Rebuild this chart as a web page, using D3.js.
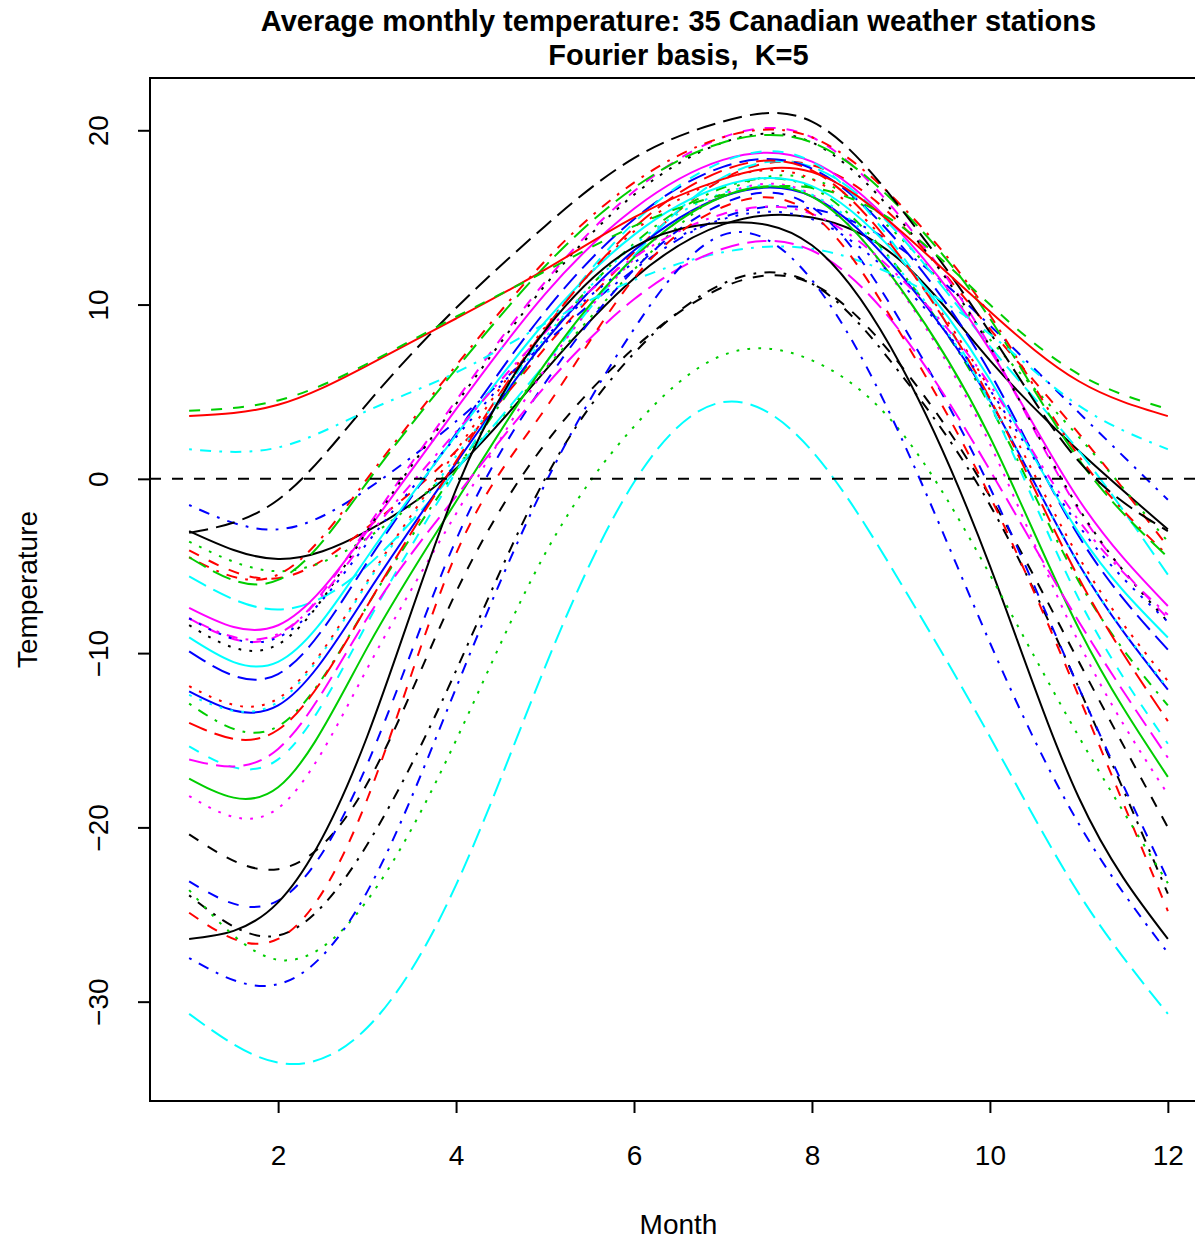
<!DOCTYPE html>
<html>
<head>
<meta charset="utf-8">
<script src="https://cdn.jsdelivr.net/npm/d3@7"></script>
<style>
  body { margin: 0; background: #fff; }
  svg { display: block; font-family: "Liberation Sans", Arial, sans-serif; }
</style>
</head>
<body>
<div id="chart"></div>
<script>
// month positions and axis ticks
const months = [1, 2, 3, 4, 5, 6, 7, 8, 9, 10, 11, 12];
const xTicks = [2, 4, 6, 8, 10, 12];
const yTicks = [-30, -20, -10, 0, 10, 20];

// smoothed monthly temperature curves (station order of the data set)
const stJohns       = [-3.0, -4.6, -3.0, 0.6, 6.2, 11.5, 14.6, 15.0, 12.5, 6.8, 1.6, -2.9];
const halifax       = [-4.1, -5.7, -2.8, 1.6, 7.5, 13.0, 17.2, 18.0, 14.6, 8.6, 2.6, -3.9];
const sydney        = [-3.6, -5.3, -3.4, 0.8, 6.3, 12.0, 16.4, 17.2, 13.8, 8.0, 2.4, -3.6];
const yarmouth      = [-1.5, -2.9, -0.6, 3.3, 7.8, 12.0, 15.0, 15.5, 13.2, 8.8, 3.8, -1.2];
const charlottetown = [-5.6, -7.5, -5.0, 0.5, 6.6, 12.8, 17.3, 17.9, 13.9, 7.6, 1.6, -5.5];
const fredericton   = [-7.4, -8.4, -3.0, 4.0, 10.6, 15.5, 18.3, 18.2, 14.1, 7.4, -1.2, -7.3];
const scheffervll   = [-20.4, -22.4, -17.5, -6.5, 2.0, 7.5, 11.0, 11.2, 6.5, -1.0, -10.5, -20.0];
const arvida        = [-11.9, -12.6, -5.9, 1.6, 8.7, 14.2, 17.2, 17.2, 12.6, 5.1, -4.5, -11.6];
const bagottville   = [-12.9, -14.2, -7.3, 0.5, 7.9, 13.5, 16.7, 16.7, 11.9, 4.2, -5.9, -13.0];
const quebec        = [-9.9, -11.2, -4.8, 2.6, 9.6, 14.9, 17.9, 17.8, 13.4, 6.1, -3.3, -9.8];
const sherbrooke    = [-9.1, -10.5, -4.5, 2.5, 9.0, 14.0, 16.8, 16.8, 12.6, 5.7, -3.1, -9.1];
const montreal      = [-8.0, -9.0, -2.8, 4.5, 11.3, 16.5, 19.6, 19.6, 15.0, 7.6, -1.8, -8.0];
const ottawa        = [-8.4, -9.5, -3.0, 4.3, 11.1, 16.3, 19.3, 19.3, 14.8, 7.6, -1.7, -8.2];
const toronto       = [-4.5, -5.5, 0.0, 6.5, 12.5, 17.0, 19.6, 19.6, 15.7, 9.4, 1.3, -4.4];
const london        = [-4.5, -5.8, -0.2, 6.3, 12.2, 16.7, 19.3, 19.3, 15.5, 9.2, 1.1, -4.5];
const thunderBay    = [-12.2, -13.0, -6.6, 0.9, 7.9, 13.1, 16.2, 16.2, 11.7, 4.5, -4.9, -12.1];
const winnipeg      = [-15.35, -16.1, -8.3, 0.4, 8.5, 14.7, 18.2, 18.2, 12.9, 4.3, -6.9, -15.2];
const thePas        = [-18.2, -18.9, -10.9, -2.0, 6.3, 12.6, 16.3, 16.3, 10.8, 2.0, -9.4, -18.1];
const churchill     = [-23.9, -26.2, -21.0, -11.0, 0.0, 7.2, 11.2, 11.2, 6.0, -1.5, -12.0, -23.8];
const regina        = [-14.0, -14.4, -7.3, 1.0, 8.6, 14.4, 17.7, 17.7, 12.7, 4.6, -5.7, -13.9];
const prAlbert      = [-17.2, -17.7, -9.7, -1.3, 6.6, 12.7, 16.2, 16.2, 10.9, 2.4, -8.6, -17.1];
const uraniumCity   = [-23.1, -24.2, -16.4, -3.5, 5.5, 12.0, 15.8, 15.6, 9.0, -0.5, -12.0, -23.0];
const edmonton      = [-12.4, -12.8, -6.0, 1.3, 8.1, 13.4, 16.4, 16.3, 11.9, 4.5, -4.9, -12.0];
const calgary       = [-8.0, -8.9, -3.4, 2.7, 8.4, 12.7, 15.2, 15.2, 11.5, 5.4, -2.4, -7.8];
const kamloops      = [-3.1, -1.2, 4.3, 9.8, 14.5, 18.4, 20.5, 20.5, 15.5, 8.4, 1.0, -3.0];
const vancouver     = [3.6, 4.25, 6.5, 9.2, 12.0, 15.0, 17.2, 17.6, 14.2, 9.6, 5.6, 3.6];
const victoria      = [3.9, 4.5, 6.6, 9.3, 11.9, 14.5, 16.3, 16.7, 14.5, 10.0, 6.0, 4.0];
const prGeorge      = [-8.0, -9.1, -3.7, 2.4, 8.1, 12.4, 14.9, 14.9, 11.2, 5.1, -2.7, -8.2];
const prRupert      = [1.7, 1.8, 3.9, 6.1, 8.9, 11.4, 13.0, 13.2, 11.5, 8.3, 4.2, 1.7];
const whitehorse    = [-16.1, -15.5, -8.0, -1.0, 5.3, 10.3, 13.2, 13.1, 8.4, 0.5, -8.2, -16.0];
const dawson        = [-26.4, -24.3, -14.8, -0.6, 8.5, 13.3, 14.7, 13.4, 6.5, -5.0, -18.3, -26.4];
const yellowknife   = [-24.9, -26.4, -18.4, -4.3, 4.0, 11.5, 15.6, 15.2, 8.3, -1.0, -12.5, -24.8];
const iqaluit       = [-23.6, -27.6, -24.2, -15.0, -4.3, 3.0, 7.1, 6.8, 2.7, -5.5, -14.8, -23.2];
const inuvik        = [-27.5, -29.0, -23.7, -12.0, -0.3, 8.6, 14.0, 11.4, 2.4, -9.4, -19.8, -27.2];
const resolute      = [-30.7, -33.5, -31.5, -23.3, -10.8, -0.2, 4.4, 1.6, -6.0, -14.8, -23.8, -30.7];

const stations = [stJohns, halifax, sydney, yarmouth, charlottetown, fredericton,
  scheffervll, arvida, bagottville, quebec, sherbrooke, montreal, ottawa, toronto,
  london, thunderBay, winnipeg, thePas, churchill, regina, prAlbert, uraniumCity,
  edmonton, calgary, kamloops, vancouver, victoria, prGeorge, prRupert, whitehorse,
  dawson, yellowknife, iqaluit, inuvik, resolute];

// matplot style cycling: col = 1:6, lty = 1:5
const palette = ["#000000", "#FF0000", "#00CD00", "#0000FF", "#00FFFF", "#FF00FF"];
const dashes = [null, "11,11", "2.75,8.25", "2.75,8.25,11,8.25", "19.25,8.25"];

const W = 1195, H = 1240;
const pLeft = 150, pRight = 1207, pTop = 78, pBottom = 1101;

const svg = d3.select("#chart").append("svg")
    .attr("width", W)
    .attr("height", H);

svg.append("rect").attr("width", W).attr("height", H).attr("fill", "#fff");

const x = d3.scaleLinear().domain([0.56, 12.44]).range([pLeft, pRight]);
const y = d3.scaleLinear().domain([-35.7, 23.0]).range([pBottom, pTop]);

const line = d3.line()
    .x((d, i) => x(months[i]))
    .y(d => y(d))
    .curve(d3.curveNatural);

svg.append("clipPath").attr("id", "plotclip")
  .append("rect")
    .attr("x", pLeft).attr("y", pTop)
    .attr("width", pRight - pLeft).attr("height", pBottom - pTop);

const plot = svg.append("g").attr("clip-path", "url(#plotclip)");

plot.selectAll("path.curve")
    .data(stations)
    .enter()
    .append("path")
    .attr("class", "curve")
    .attr("d", d => line(d))
    .attr("fill", "none")
    .attr("stroke", (d, i) => palette[i % 6])
    .attr("stroke-width", 2)
    .attr("stroke-dasharray", (d, i) => dashes[i % 5]);

// zero line
plot.append("line")
    .attr("x1", pLeft).attr("x2", pRight)
    .attr("y1", y(0)).attr("y2", y(0))
    .attr("stroke", "#000")
    .attr("stroke-width", 2)
    .attr("stroke-dasharray", "11,11");

// box
svg.append("rect")
    .attr("x", pLeft).attr("y", pTop)
    .attr("width", pRight - pLeft).attr("height", pBottom - pTop)
    .attr("fill", "none")
    .attr("stroke", "#000")
    .attr("stroke-width", 2);

const xAxis = d3.axisBottom(x).tickValues(xTicks).tickSize(12).tickSizeOuter(0);
const yAxis = d3.axisLeft(y).tickValues(yTicks).tickSize(12).tickSizeOuter(0);

const gx = svg.append("g")
    .attr("transform", `translate(0, ${pBottom})`)
    .call(xAxis);
gx.select(".domain").remove();
gx.selectAll("line").attr("stroke-width", 2);
gx.selectAll("text")
    .attr("y", 64)
    .attr("dy", 0)
    .attr("font-size", 28)
    .attr("font-family", "Liberation Sans, Arial, sans-serif")
    .attr("fill", "#000");

const gy = svg.append("g")
    .attr("transform", `translate(${pLeft}, 0)`)
    .call(yAxis);
gy.select(".domain").remove();
gy.selectAll("line").attr("stroke-width", 2);
gy.selectAll("text")
    .attr("transform", "rotate(-90)")
    .attr("x", 0)
    .attr("y", -42)
    .attr("dy", 0)
    .attr("text-anchor", "middle")
    .attr("font-size", 28)
    .attr("font-family", "Liberation Sans, Arial, sans-serif")
    .attr("fill", "#000");

// titles
svg.append("text")
    .attr("x", (pLeft + pRight) / 2).attr("y", 31)
    .attr("text-anchor", "middle")
    .attr("font-size", 29).attr("font-weight", "bold")
    .text("Average monthly temperature: 35 Canadian weather stations");
svg.append("text")
    .attr("x", (pLeft + pRight) / 2).attr("y", 65)
    .attr("text-anchor", "middle")
    .attr("font-size", 29).attr("font-weight", "bold")
    .attr("xml:space", "preserve")
    .style("white-space", "pre")
    .text("Fourier basis,  K=5");

svg.append("text")
    .attr("x", (pLeft + pRight) / 2).attr("y", 1234)
    .attr("text-anchor", "middle")
    .attr("font-size", 28)
    .text("Month");
svg.append("text")
    .attr("transform", `translate(37, ${(pTop + pBottom) / 2}) rotate(-90)`)
    .attr("text-anchor", "middle")
    .attr("font-size", 28)
    .text("Temperature");
</script>
</body>
</html>
